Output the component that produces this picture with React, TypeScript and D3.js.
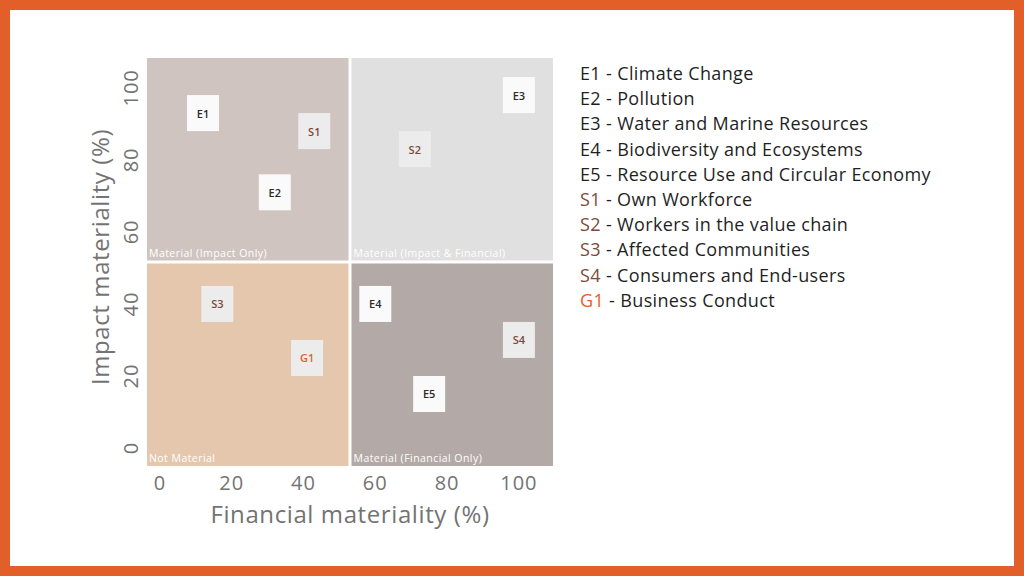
import React from "react";
import * as d3 from "d3";

const codes = ["E1", "S1", "E2", "E3", "S2", "S3", "G1", "E4", "S4", "E5"];
const financial = [12, 43, 32, 100, 71, 16, 41, 60, 100, 75];
const impact = [93, 88, 71, 98, 83, 40, 25, 40, 30, 15];

const legendCodes = ["E1", "E2", "E3", "E4", "E5", "S1", "S2", "S3", "S4", "G1"];
const legendNames = [
  "Climate Change",
  "Pollution",
  "Water and Marine Resources",
  "Biodiversity and Ecosystems",
  "Resource Use and Circular Economy",
  "Own Workforce",
  "Workers in the value chain",
  "Affected Communities",
  "Consumers and End-users",
  "Business Conduct",
];

const quadrantLabels = [
  "Material (Impact Only)",
  "Material (Impact & Financial)",
  "Not Material",
  "Material (Financial Only)",
];
const quadrantColors = ["#D0C4C0", "#E0E0E0", "#E5C7AD", "#B3A9A6"];

const xTicks = [0, 20, 40, 60, 80, 100];
const yTicks = [0, 20, 40, 60, 80, 100];

const FONT = "'Open Sans', 'Noto Sans', sans-serif";
const ORANGE = "#E35F2A";
const BROWN = "#7B4A3A";
const AXIS = "#737373";

function codeColor(c: string) {
  if (c.startsWith("G")) return ORANGE;
  if (c.startsWith("S")) return BROWN;
  return "#2b2b2b";
}

export default function App() {
  const W = 1024;
  const H = 576;
  const left = 147, right = 553, top = 58, bottom = 466;
  const x = d3.scaleLinear().domain([-3.6, 109.5]).range([left, right]);
  const y = d3.scaleLinear().domain([-5, 108.3]).range([bottom, top]);
  const midX = (left + right) / 2;
  const midY = (top + bottom) / 2;
  const gap = 1.5;
  const quads = [
    { x0: left, x1: midX - gap, y0: top, y1: midY - gap },
    { x0: midX + gap, x1: right, y0: top, y1: midY - gap },
    { x0: left, x1: midX - gap, y0: midY + gap, y1: bottom },
    { x0: midX + gap, x1: right, y0: midY + gap, y1: bottom },
  ];
  const bw = 32, bh = 36;

  return (
    <svg
      width={W}
      height={H}
      style={{ position: "absolute", left: 0, top: 0, display: "block" }}
      fontFamily={FONT}
    >
      <rect x={0} y={0} width={W} height={H} fill={ORANGE} />
      <rect x={10} y={10} width={W - 20} height={H - 20} fill="#FFFFFF" />

      {quads.map((q, i) => (
        <g key={i}>
          <rect x={q.x0} y={q.y0} width={q.x1 - q.x0} height={q.y1 - q.y0} fill={quadrantColors[i]} />
          <text x={q.x0 + 2} y={q.y1 - 4} fontSize={10.5} letterSpacing={0.45} fill="#FFFFFF">
            {quadrantLabels[i]}
          </text>
        </g>
      ))}

      {codes.map((c, i) => {
        const cx = x(financial[i]);
        const cy = y(impact[i]);
        return (
          <g key={c}>
            <rect
              x={cx - bw / 2}
              y={cy - bh / 2}
              width={bw}
              height={bh}
              fill={c.startsWith("E") ? "#FAFAFA" : "#ECECEC"}
            />
            <text
              x={cx}
              y={cy}
              textAnchor="middle"
              dominantBaseline="central"
              fontSize={11}
              fontWeight={600}
              fill={codeColor(c)}
            >
              {c}
            </text>
          </g>
        );
      })}

      {xTicks.map((t) => (
        <text
          key={"x" + t}
          x={x(t)}
          y={482}
          textAnchor="middle"
          dominantBaseline="central"
          fontSize={20}
          letterSpacing={1}
          fill={AXIS}
        >
          {t}
        </text>
      ))}
      {yTicks.map((t) => (
        <text
          key={"y" + t}
          transform={`translate(130,${y(t)}) rotate(-90)`}
          textAnchor="middle"
          dominantBaseline="central"
          fontSize={20}
          letterSpacing={1}
          fill={AXIS}
        >
          {t}
        </text>
      ))}

      <text x={350} y={513} textAnchor="middle" dominantBaseline="central" fontSize={24} letterSpacing={0.6} fill={AXIS}>
        Financial materiality (%)
      </text>
      <text
        transform={`translate(99,${midY - 5}) rotate(-90)`}
        textAnchor="middle"
        dominantBaseline="central"
        fontSize={24}
        letterSpacing={0.6}
        fill={AXIS}
      >
        Impact materiality (%)
      </text>

      {legendCodes.map((c, i) => (
        <text
          key={"l" + c}
          x={580}
          y={73 + i * 25.2}
          dominantBaseline="central"
          fontSize={18}
          letterSpacing={0.35}
          fill="#1f1f1f"
        >
          <tspan fill={codeColor(c) === "#2b2b2b" ? "#1f1f1f" : codeColor(c)}>{c}</tspan>
          <tspan>{" - " + legendNames[i]}</tspan>
        </text>
      ))}
    </svg>
  );
}
